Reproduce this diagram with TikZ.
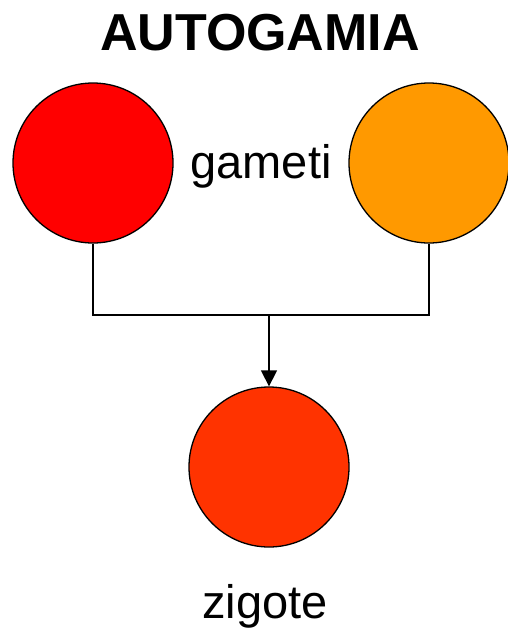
\documentclass[tikz,border=0pt]{standalone}
\usepackage{fontspec}
\setmainfont{Liberation Sans}
\usetikzlibrary{arrows.meta,positioning,calc}
\definecolor{gamred}{HTML}{FF0000}
\definecolor{gamorange}{HTML}{FF9900}
\definecolor{zigred}{HTML}{FF3300}

\begin{document}
\begin{tikzpicture}[x=1pt, y=-1pt]
\tikzset{cell/.style={circle, draw, line width=1.3pt, minimum size=160pt, inner sep=0pt},
         lbl/.style={font=\fontsize{47}{50}\selectfont, inner sep=0pt}}
\useasboundingbox (0,0) rectangle (508,630);
\node[font=\bfseries\fontsize{52}{56}\selectfont, inner sep=0pt] (title) at (260,33) {AUTOGAMIA};
\node[cell, fill=gamred] (g1) at (93,163) {};
\node[cell, fill=gamorange] (g2) at (429,163) {};
\node[lbl] (gam) at (261,166) {gameti};
\node[cell, fill=zigred] (zig) at (269,467) {};
\node[lbl] (zlbl) at (265,606) {zigote};
\coordinate (join) at (269,315);
\draw[line width=1.3pt] (g1.south) |- (join) -| (g2.south);
\draw[line width=1.3pt, -{Triangle[width=16pt, length=16pt]}] (join) -- (zig.north);
\end{tikzpicture}
\end{document}
